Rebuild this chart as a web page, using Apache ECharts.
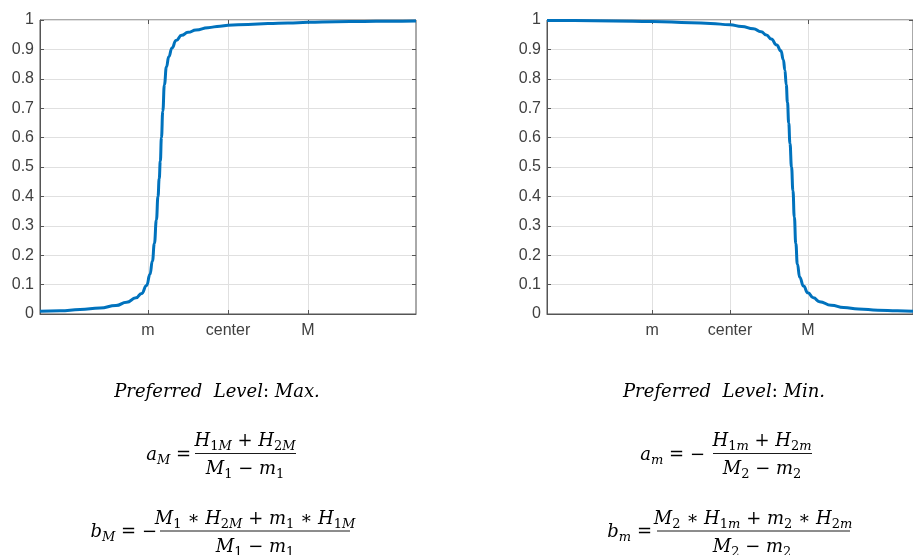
<!DOCTYPE html>
<html>
<head>
<meta charset="utf-8">
<script src="https://cdn.jsdelivr.net/npm/echarts@6/dist/echarts.min.js"></script>
<style>
  html, body { margin: 0; padding: 0; background: #fff; }
  #main { width: 913px; height: 555px; }
</style>
</head>
<body>
<div id="main"></div>
<script>
// x in units where m = -1, center = 0, M = 1
const xMax = [-2.35, -2.1, -1.85, -1.6, -1.4, -1.267, -1.15, -1.08, -1.017, -0.975, -0.945, -0.92, -0.895, -0.875, -0.86, -0.846, -0.832, -0.815, -0.795, -0.77, -0.74, -0.70, -0.65, -0.58, -0.5, -0.4, -0.25, -0.1, 0, 0.25, 0.5, 0.75, 1.0, 1.35, 1.7, 2.0, 2.35];
const yMax = [0.009, 0.011, 0.015, 0.02, 0.029, 0.04, 0.055, 0.07, 0.097, 0.135, 0.18, 0.24, 0.32, 0.4, 0.46, 0.52, 0.6, 0.69, 0.78, 0.84, 0.875, 0.905, 0.93, 0.948, 0.958, 0.966, 0.974, 0.979, 0.982, 0.985, 0.988, 0.99, 0.992, 0.994, 0.995, 0.996, 0.997];

const xMin = [-2.35, -2.0, -1.5, -1.0, -0.5, -0.25, 0, 0.15, 0.3, 0.4, 0.467, 0.53, 0.6, 0.654, 0.685, 0.705, 0.722, 0.738, 0.754, 0.77, 0.79, 0.808, 0.826, 0.845, 0.865, 0.895, 0.944, 1.0, 1.07, 1.15, 1.3, 1.46, 1.65, 1.9, 2.15, 2.35];
const yMin = [0.998, 0.998, 0.997, 0.995, 0.991, 0.988, 0.984, 0.978, 0.97, 0.96, 0.949, 0.935, 0.915, 0.895, 0.865, 0.83, 0.78, 0.72, 0.65, 0.58, 0.5, 0.42, 0.33, 0.24, 0.17, 0.125, 0.095, 0.072, 0.055, 0.042, 0.03, 0.022, 0.017, 0.013, 0.011, 0.009];

const xTickValues = [-1, 0, 1];
const xTickLabels = ['m', 'center', 'M'];

const zip = (xs, ys) => xs.map((x, i) => [x, ys[i]]);

const myChart = echarts.init(document.getElementById('main'));

const axisColor = '#555555';
const gridColor = '#e0e0e0';
const labelFont = { color: '#404040', fontSize: 16, fontFamily: 'Liberation Sans, Arial, sans-serif' };

function xAxisFor(gridIndex, position) {
  return {
    type: 'value',
    gridIndex: gridIndex,
    position: position,
    min: -2.35,
    max: 2.35,
    axisLine: { show: position === 'bottom', onZero: false, lineStyle: { color: axisColor } },
    axisTick: { show: true, inside: true, length: 4, customValues: xTickValues, lineStyle: { color: axisColor } },
    axisLabel: {
      show: position === 'bottom',
      customValues: xTickValues,
      margin: 9,
      formatter: (v) => xTickLabels[xTickValues.indexOf(Math.round(v))] || '',
      ...labelFont
    },
    splitLine: { show: position === 'bottom', lineStyle: { color: gridColor } }
  };
}

function yAxisFor(gridIndex, position) {
  return {
    type: 'value',
    gridIndex: gridIndex,
    position: position,
    min: 0,
    max: 1,
    interval: 0.1,
    axisLine: { show: position === 'left', onZero: false, lineStyle: { color: axisColor } },
    axisTick: { show: true, inside: true, length: 4, lineStyle: { color: axisColor } },
    axisLabel: { show: position === 'left', margin: 6, ...labelFont },
    splitLine: { show: position === 'left', lineStyle: { color: gridColor } }
  };
}

const ink = '#1a1a1a';
const rich = {
  v: { fontFamily: 'DejaVu Serif', fontStyle: 'italic', fontSize: 18, color: ink, lineHeight: 24 },
  o: { fontFamily: 'DejaVu Serif', fontSize: 18, color: ink, lineHeight: 24 },
  n: { fontFamily: 'DejaVu Serif', fontSize: 13, color: ink, lineHeight: 24, verticalAlign: 'bottom' },
  s: { fontFamily: 'DejaVu Serif', fontStyle: 'italic', fontSize: 13, color: ink, lineHeight: 24, verticalAlign: 'bottom' }
};

function mathText(x, y, text, align) {
  return {
    type: 'text',
    x: x,
    y: y,
    style: { text: text, rich: rich, textAlign: align || 'center', textVerticalAlign: 'middle' }
  };
}

function fracLine(x1, x2, y) {
  return { type: 'line', shape: { x1: x1, y1: y, x2: x2, y2: y }, style: { stroke: ink, lineWidth: 1 } };
}

const lineSeries = (axisIdx, data) => ({
  type: 'line', xAxisIndex: axisIdx, yAxisIndex: axisIdx, data: data,
  showSymbol: false, smooth: 0.5, smoothMonotone: 'x',
  lineStyle: { color: '#0072BD', width: 3 }
});

const option = {
  animation: false,
  grid: [
    { left: 40, top: 20, width: 376, height: 294, show: true, borderColor: axisColor, borderWidth: 1 },
    { left: 547, top: 20, width: 377, height: 294, show: true, borderColor: axisColor, borderWidth: 1 }
  ],
  xAxis: [xAxisFor(0, 'bottom'), xAxisFor(0, 'top'), xAxisFor(1, 'bottom'), xAxisFor(1, 'top')],
  yAxis: [yAxisFor(0, 'left'), yAxisFor(0, 'right'), yAxisFor(1, 'left'), yAxisFor(1, 'right')],
  series: [
    lineSeries(0, zip(xMax, yMax)),
    lineSeries(2, zip(xMin, yMin))
  ],
  graphic: [
    mathText(217, 392, '{v|Preferred  Level}{o|:}{v| Max.}'),
    mathText(191, 455, '{v|a}{s|M}{o| =}', 'right'),
    mathText(245, 441, '{v|H}{n|1}{s|M}{o| + }{v|H}{n|2}{s|M}'),
    fracLine(195, 296, 453.5),
    mathText(245, 469, '{v|M}{n|1}{o| − }{v|m}{n|1}'),
    mathText(157, 532, '{v|b}{s|M}{o| = −}', 'right'),
    mathText(255, 519, '{v|M}{n|1}{o| ∗ }{v|H}{n|2}{s|M}{o| + }{v|m}{n|1}{o| ∗ }{v|H}{n|1}{s|M}'),
    fracLine(160, 350, 531),
    mathText(255, 547, '{v|M}{n|1}{o| − }{v|m}{n|1}'),

    mathText(724, 392, '{v|Preferred  Level}{o|:}{v| Min.}'),
    mathText(705, 455, '{v|a}{s|m}{o| = −}', 'right'),
    mathText(762, 441, '{v|H}{n|1}{s|m}{o| + }{v|H}{n|2}{s|m}'),
    fracLine(713, 812, 453.5),
    mathText(762, 469, '{v|M}{n|2}{o| − }{v|m}{n|2}'),
    mathText(652, 532, '{v|b}{s|m}{o| =}', 'right'),
    mathText(753, 519, '{v|M}{n|2}{o| ∗ }{v|H}{n|1}{s|m}{o| + }{v|m}{n|2}{o| ∗ }{v|H}{n|2}{s|m}'),
    fracLine(657, 850, 531),
    mathText(752, 547, '{v|M}{n|2}{o| − }{v|m}{n|2}')
  ]
};

myChart.setOption(option);
</script>
</body>
</html>
